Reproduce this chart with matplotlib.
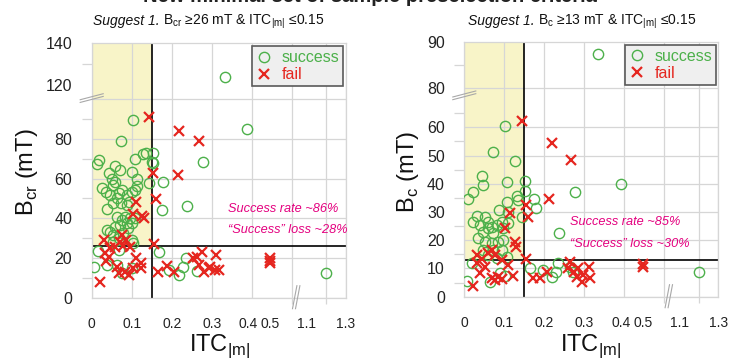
import numpy as np
import matplotlib
matplotlib.use("Agg")
import matplotlib.pyplot as plt
from matplotlib.lines import Line2D
from matplotlib.transforms import ScaledTranslation
from matplotlib.ticker import FixedLocator, FixedFormatter, NullFormatter

# ---------------------------------------------------------------- data
itc_cut = 0.15
bcr_cut = 26
bc_cut = 13

# left panel: B_cr vs ITC_|m|
left_success_x = [0.333, 0.3875, 0.102, 0.073, 0.277, 0.0125, 0.019, 0.057, 0.071, 0.042,
                  0.1, 0.107, 0.1275, 0.135, 0.154, 0.15, 0.154, 0.144, 0.179, 0.114,
                  0.1125, 0.107, 0.05, 0.058, 0.025, 0.036, 0.046, 0.054, 0.067, 0.0625,
                  0.0875, 0.092, 0.1, 0.075, 0.0375, 0.054, 0.0725, 0.175, 0.239, 0.0875,
                  0.0625, 0.075, 0.083, 0.096, 0.0875, 0.071, 0.058, 0.1, 0.108, 0.046,
                  0.0375, 0.054, 0.067, 0.079, 0.09, 0.1, 0.104, 0.067, 0.017, 0.054,
                  0.167, 0.007, 0.0375, 0.0625, 0.1, 0.075, 0.192, 0.217, 0.236, 0.229,
                  0.2625, 1.2]
left_success_y = [124, 85.0, 89.5, 79.1, 68.5, 67.2, 69.4, 66.5, 64.3, 63.0,
                  63.5, 69.7, 72.2, 73.0, 73.0, 68.5, 67.7, 57.6, 58.4, 59.8,
                  56.4, 54.2, 59.6, 58.4, 55.1, 53.4, 51.7, 56.8, 52.6, 50.0,
                  51.7, 48.4, 53.4, 54.2, 44.5, 47.5, 47.5, 44.2, 46.3, 46.7,
                  40.8, 39.1, 40.8, 40.0, 37.4, 36.6, 35.8, 37.4, 40.0, 33.2,
                  34.1, 31.6, 29.9, 32.4, 34.9, 29.1, 27.7, 24.0, 23.5, 28.2,
                  23.2, 15.6, 16.5, 16.5, 14.8, 12.3, 13.9, 11.4, 19.8, 15.6,
                  13.6, 12.3]
left_fail_x = [0.144, 0.218, 0.267, 0.154, 0.215, 0.16, 0.111, 0.104, 0.125, 0.131,
               0.156, 0.031, 0.075, 0.071, 0.086, 0.079, 0.096, 0.058, 0.046, 0.033,
               0.042, 0.036, 0.021, 0.064, 0.069, 0.083, 0.092, 0.104, 0.111, 0.123,
               0.123, 0.165, 0.1875, 0.206, 0.254, 0.2625, 0.275, 0.267, 0.281, 0.292,
               0.296, 0.308, 0.31, 0.317, 0.5, 0.5, 0.5]
left_fail_y = [91.2, 84.0, 78.9, 62.6, 61.8, 49.7, 48.2, 42.1, 41.1, 40.0,
               27.0, 29.1, 31.6, 28.2, 29.1, 26.2, 25.7, 25.7, 24.9, 22.3,
               20.7, 18.6, 8.1, 15.6, 12.3, 13.1, 11.4, 14.8, 19.8, 17.6,
               14.8, 13.1, 16.1, 13.1, 19.8, 20.7, 23.2, 16.5, 13.1, 14.8,
               15.6, 13.9, 21.5, 13.9, 19.8, 17.6, 18.6]

# right panel: B_c vs ITC_|m|
right_success_x = [0.333, 0.392, 0.102, 0.0725, 0.127, 0.045, 0.0475, 0.106, 0.01, 0.021,
                   0.152, 0.152, 0.131, 0.135, 0.174, 0.179, 0.277, 0.143, 0.2375, 0.106,
                   0.11, 0.0875, 0.031, 0.0225, 0.052, 0.06, 0.039, 0.068, 0.081, 0.093,
                   0.0475, 0.06, 0.0725, 0.0975, 0.11, 0.035, 0.052, 0.068, 0.085, 0.0975,
                   0.0475, 0.0725, 0.093, 0.06, 0.106, 0.081, 0.018, 0.164, 0.006, 0.064,
                   0.089, 0.102, 0.1975, 0.218, 0.229, 0.235, 0.264, 0.2725, 1.2]
right_success_y = [87.4, 40.0, 60.3, 51.2, 48.2, 42.9, 39.6, 40.5, 34.6, 37.0,
                   41.0, 37.6, 35.8, 34.3, 34.5, 31.3, 37.0, 28.4, 22.7, 33.7,
                   30.1, 30.7, 28.6, 26.6, 28.4, 26.6, 25.4, 24.8, 25.4, 26.6,
                   23.0, 24.2, 22.5, 24.2, 26.0, 20.7, 19.5, 18.9, 19.5, 20.1,
                   16.5, 16.5, 16.5, 14.8, 13.9, 13.6, 11.8, 10.0, 5.7, 5.2,
                   8.3, 7.3, 9.5, 6.9, 8.9, 12.1, 10.6, 8.9, 8.9]
right_fail_x = [0.145, 0.22, 0.267, 0.212, 0.153, 0.16, 0.114, 0.102, 0.1275, 0.128,
                0.153, 0.031, 0.043, 0.06, 0.068, 0.077, 0.093, 0.031, 0.052, 0.039,
                0.0225, 0.068, 0.077, 0.085, 0.093, 0.11, 0.121, 0.171, 0.189, 0.206,
                0.264, 0.26, 0.274, 0.281, 0.285, 0.2975, 0.293, 0.312, 0.314, 0.5, 0.5]
right_fail_y = [62.1, 54.4, 48.5, 34.6, 32.5, 28.4, 29.8, 24.2, 19.5, 17.7,
                13.2, 14.8, 13.2, 15.4, 16.5, 14.8, 13.0, 11.8, 10.6, 8.3,
                3.9, 6.5, 5.9, 7.1, 6.1, 11.2, 7.3, 6.7, 6.5, 8.9,
                12.4, 10.0, 8.9, 7.1, 10.0, 7.7, 5.3, 10.4, 6.5, 10.6, 11.6]

x_tick_values = [0, 0.1, 0.2, 0.3, 0.4, 0.5, 1.1, 1.3]
x_tick_labels = ["0", "0.1", "0.2", "0.3", "0.4", "0.5", "1.1", "1.3"]
left_y_ticks = [0, 20, 40, 60, 80, 120, 140]
right_y_ticks = [0, 10, 20, 30, 40, 50, 60, 80, 90]

# ---------------------------------------------------------------- style
SANS = "Liberation Sans"
plt.rcParams["font.family"] = [SANS, "DejaVu Sans"]

GREEN = "#4cb04a"
RED = "#e5261f"
MAGENTA = "#e4007f"
GRID = "#d6d6d6"
SHADE = "#f8f4c8"


# ---------------------------------------------------------------- broken-axis scales
def piecewise(src, dst):
    src = np.asarray(src, float)
    dst = np.asarray(dst, float)
    s0 = (dst[1] - dst[0]) / (src[1] - src[0])
    s1 = (dst[-1] - dst[-2]) / (src[-1] - src[-2])

    def f(v):
        v = np.asarray(v, float)
        out = np.interp(v, src, dst)
        out = np.where(v < src[0], dst[0] + (v - src[0]) * s0, out)
        out = np.where(v > src[-1], dst[-1] + (v - src[-1]) * s1, out)
        return out
    return f


x_real = [0, 0.4, 0.5, 1.1, 1.3]
x_draw = [0, 0.4, 0.446, 0.5375, 0.635]
fx, fx_inv = piecewise(x_real, x_draw), piecewise(x_draw, x_real)

ly_real, ly_draw = [0, 100, 120, 140], [0, 100, 107.2, 128.2]
ry_real, ry_draw = [0, 70, 80, 90], [0, 70, 73.9, 90.3]

fig = plt.figure(figsize=(7.31, 3.64), dpi=100)
W, H = 731.0, 364.0


def px_axes(x0, x1, ytop, ybot):
    return fig.add_axes([x0 / W, 1 - ybot / H, (x1 - x0) / W, (ybot - ytop) / H])


def panel(ax, sx, sy, fx_, fy_, ycut, y_real, y_draw, yticks, ygrid, yminor, ybreak_frac):
    fy, fy_inv = piecewise(y_real, y_draw), piecewise(y_draw, y_real)
    ax.set_xscale("function", functions=(fx, fx_inv))
    ax.set_yscale("function", functions=(fy, fy_inv))
    ax.set_xlim(0, 1.3)
    ax.set_ylim(0, y_real[-1])

    # shaded preselection window
    ax.fill_between([0, itc_cut], ycut, y_real[-1], color=SHADE, lw=0, zorder=0)

    # grid
    xgrid = [0, 0.1, 0.2, 0.3, 0.4, float(fx_inv(0.5)), 1.2, 1.3]
    for g in xgrid:
        ax.axvline(g, color=GRID, lw=0.9, zorder=0.5)
    for g in ygrid:
        ax.axhline(g, color=GRID, lw=0.9, zorder=0.5)

    # thresholds
    ax.axvline(itc_cut, color="black", lw=1.2, zorder=1)
    ax.axhline(ycut, color="black", lw=1.2, zorder=1)

    ax.plot(sx, sy, linestyle="none", marker="o", ms=7.4, mfc="none", mec=GREEN,
            mew=1.0, zorder=3, label="success")
    ax.plot(fx_, fy_, linestyle="none", marker="x", ms=6.6, mec=RED, mew=1.6,
            zorder=4, label="fail")

    # ticks
    ax.xaxis.set_major_locator(FixedLocator(x_tick_values))
    ax.xaxis.set_major_formatter(FixedFormatter(x_tick_labels))
    ax.xaxis.set_minor_locator(FixedLocator(xgrid))
    ax.xaxis.set_minor_formatter(NullFormatter())
    ax.yaxis.set_major_locator(FixedLocator(yticks))
    ax.yaxis.set_major_formatter(FixedFormatter([str(t) for t in yticks]))
    ax.yaxis.set_minor_locator(FixedLocator(yminor))
    ax.yaxis.set_minor_formatter(NullFormatter())
    ax.tick_params(axis="x", which="major", length=0, pad=14, labelsize=10, colors="#222222")
    ax.tick_params(axis="x", which="minor", length=4, width=0.9, color=GRID)
    ax.tick_params(axis="y", which="major", length=0, pad=14, labelsize=11.5, colors="#222222")
    ax.tick_params(axis="y", which="minor", length=7, width=0.9, color=GRID)
    for s in ax.spines.values():
        s.set_color(GRID)
        s.set_linewidth(0.9)

    # nudge the "0.4" label left so it clears the "0.5" label beside the break
    tk = ax.xaxis.get_major_ticks()[4]
    tk.label1.set_transform(tk.label1.get_transform()
                            + ScaledTranslation(-3.5 / 100, 0, fig.dpi_scale_trans))

    # break marks on both axes
    w = ax.bbox.width
    h = ax.bbox.height
    bx = 0.5075 / 0.635
    for off in (0.0, 3.0 / w):
        ax.add_line(Line2D([bx - 2.2 / w + off, bx + 2.2 / w + off], [-11 / h, 12 / h],
                           transform=ax.transAxes, color="#a8a8a8", lw=0.8,
                           clip_on=False, zorder=6))
    for off in (0.0, 2.7 / h):
        ax.add_line(Line2D([-11.5 / w, 11.5 / w], [ybreak_frac - 3 / h - off, ybreak_frac + 3 / h - off],
                           transform=ax.transAxes, color="#a8a8a8", lw=0.8,
                           clip_on=False, zorder=6))

    leg = ax.legend(loc="upper right", bbox_to_anchor=(0.991, 0.988), borderaxespad=0,
                    fontsize=11.5, frameon=True, fancybox=False, framealpha=1,
                    facecolor="#efefef", edgecolor="#5a5a5a", handlelength=1.0,
                    handletextpad=0.6, borderpad=0.25, labelspacing=0.12)
    leg.get_frame().set_linewidth(1.2)
    leg.set_zorder(10)
    for txt, c in zip(leg.get_texts(), (GREEN, RED)):
        txt.set_color(c)


axL = px_axes(91.7, 345.7, 43.3, 297.7)
panel(axL, left_success_x, left_success_y, left_fail_x, left_fail_y, bcr_cut,
      ly_real, ly_draw, left_y_ticks, [0, 20, 40, 60, 80, 100],
      [10, 30, 50, 70, 90, 130], 0.79)

axR = px_axes(464.3, 718.3, 41.7, 296.7)
panel(axR, right_success_x, right_success_y, right_fail_x, right_fail_y, bc_cut,
      ry_real, ry_draw, right_y_ticks, [0, 10, 20, 30, 40, 50, 60, 80],
      [5, 15, 25, 35, 45, 55, 65, 85], 0.795)


def ftxt(x, y, s, **kw):
    return fig.text(x / W, 1 - y / H, s, **kw)


renderer = fig.canvas.get_renderer()

# headline (runs off the top edge)
ftxt(370, 1.5, "New minimal set of sample preselection criteria", ha="center", va="baseline",
     fontsize=14.5, fontweight="bold", color="#222222")


# panel titles: italic lead-in followed by the criterion
def title(xc, y, crit):
    a = ftxt(0, y, "Suggest 1. ", ha="left", va="baseline", fontsize=10, style="italic",
             color="#111111")
    b = ftxt(0, y, crit, ha="left", va="baseline", fontsize=10, color="#111111")
    wa = a.get_window_extent(renderer).width
    wb = b.get_window_extent(renderer).width
    x0 = xc - (wa + wb) / 2
    a.set_x(x0 / W)
    b.set_x((x0 + wa) / W)


title(209, 25, "B$_\\mathregular{cr}$ \u226526 mT & ITC$_\\mathregular{|m|}$ \u22640.15")
title(582, 25, "B$_\\mathregular{c}$ \u226513 mT & ITC$_\\mathregular{|m|}$ \u22640.15")

# summary annotations
for (x, y1, y2, rate, loss) in ((227.7, 209, 230, "86%", "28%"), (570, 222, 244, "85%", "30%")):
    ftxt(x, y1, "Success rate ~" + rate, ha="left", va="center", fontsize=9.2,
         style="italic", color=MAGENTA)
    ftxt(x, y2, "\u201cSuccess\u201d loss ~" + loss, ha="left", va="center", fontsize=9.2,
         style="italic", color=MAGENTA)

# axis labels
ftxt(27, 172, "B$_\\mathregular{cr}$ (mT)", rotation=90, ha="center", va="center", fontsize=17, color="#111111")
ftxt(408, 172, "B$_\\mathregular{c}$ (mT)", rotation=90, ha="center", va="center", fontsize=17, color="#111111")
ftxt(220, 346, "ITC$_\\mathregular{|m|}$", ha="center", va="center", fontsize=17, color="#111111")
ftxt(591, 346, "ITC$_\\mathregular{|m|}$", ha="center", va="center", fontsize=17, color="#111111")

fig.savefig("out.png", dpi=100)
